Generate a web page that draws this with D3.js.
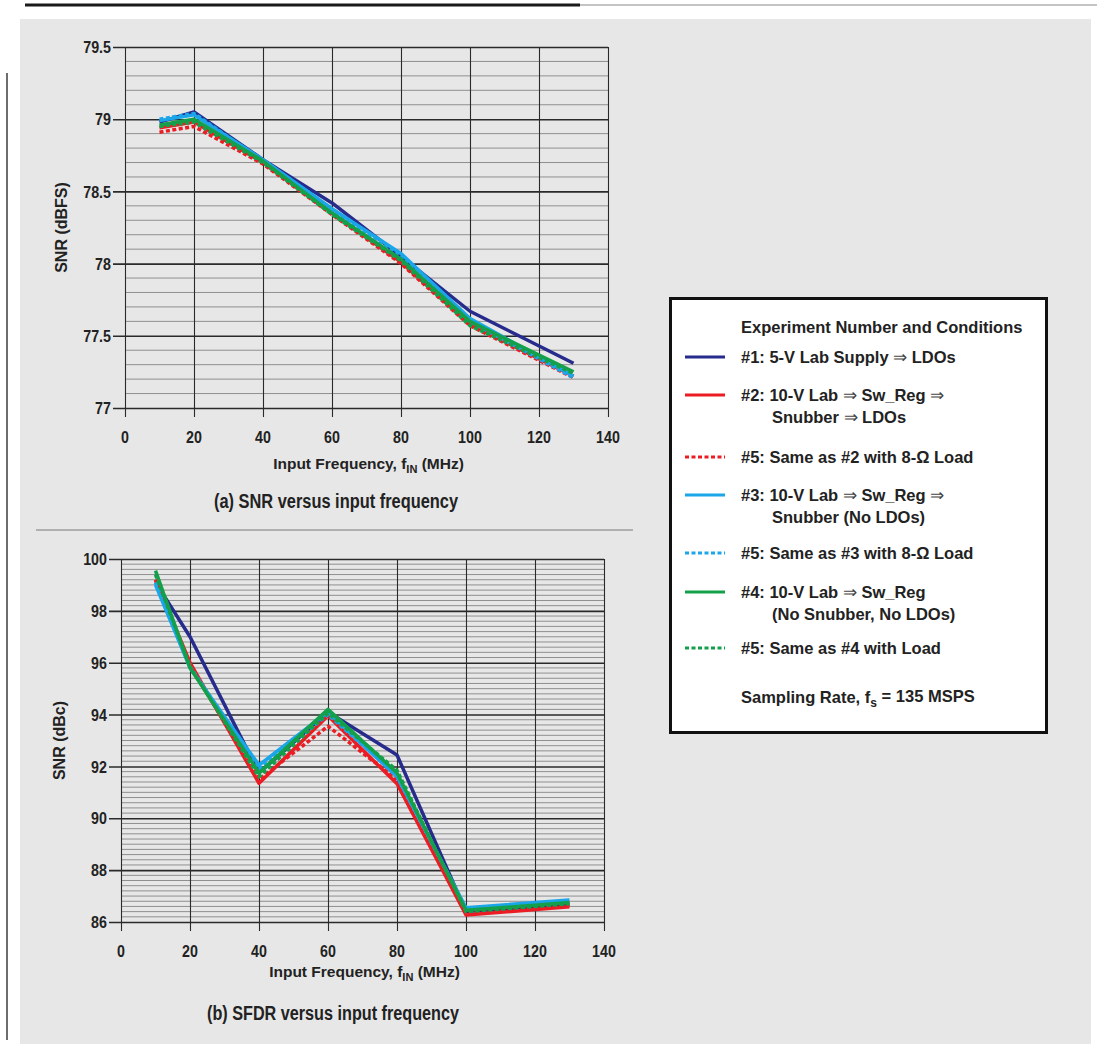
<!DOCTYPE html>
<html>
<head>
<meta charset="utf-8">
<script src="https://cdn.jsdelivr.net/npm/d3@7"></script>
<style>
  html, body { margin: 0; padding: 0; background: #ffffff; }
  svg { display: block; }
</style>
</head>
<body>
<svg id="chart" width="1097" height="1054"></svg>
<script>
// ---------------- DATA ----------------
const freq = [10, 20, 40, 60, 80, 100, 130];
const xTicks = [0, 20, 40, 60, 80, 100, 120, 140];
const snrTicks = [77, 77.5, 78, 78.5, 79, 79.5];
const sfdrTicks = [86, 88, 90, 92, 94, 96, 98, 100];

const seriesLabels = [
  ["#1: 5-V Lab Supply \u21D2 LDOs"],
  ["#2: 10-V Lab \u21D2 Sw_Reg \u21D2", "Snubber \u21D2 LDOs"],
  ["#5: Same as #2 with 8-\u03A9 Load"],
  ["#3: 10-V Lab \u21D2 Sw_Reg \u21D2", "Snubber (No LDOs)"],
  ["#5: Same as #3 with 8-\u03A9 Load"],
  ["#4: 10-V Lab \u21D2 Sw_Reg", "(No Snubber, No LDOs)"],
  ["#5: Same as #4 with Load"]
];

// SNR (dBFS), panel (a)
const snr1  = [78.98, 79.05, 78.72, 78.42, 78.05, 77.67, 77.31];
const snr2  = [78.94, 78.98, 78.70, 78.35, 78.01, 77.58, 77.22];
const snr2L = [78.91, 78.95, 78.69, 78.34, 78.00, 77.57, 77.21];
const snr3  = [78.99, 79.03, 78.72, 78.38, 78.07, 77.62, 77.22];
const snr3L = [79.00, 79.04, 78.71, 78.37, 78.06, 77.60, 77.21];
const snr4  = [78.96, 79.00, 78.71, 78.35, 78.03, 77.60, 77.25];
const snr4L = [78.95, 78.98, 78.70, 78.34, 78.02, 77.57, 77.24];

// SFDR (dBc), panel (b)
const sfdr1  = [99.1, 97.0, 91.75, 94.1, 92.44, 86.40, 86.70];
const sfdr2  = [99.2, 96.0, 91.35, 93.95, 91.33, 86.27, 86.59];
const sfdr2L = [99.2, 95.9, 91.50, 93.55, 91.50, 86.35, 86.65];
const sfdr3  = [99.0, 95.8, 92.05, 94.10, 91.60, 86.55, 86.85];
const sfdr3L = [99.1, 95.85, 91.90, 94.00, 91.65, 86.50, 86.80];
const sfdr4  = [99.55, 95.8, 91.75, 94.20, 91.75, 86.45, 86.75];
const sfdr4L = [99.4, 95.85, 91.60, 94.05, 91.85, 86.40, 86.70];

// ---------------- STYLE ----------------
const styles = [
  { color: "#262b8c", dash: null },
  { color: "#ec1c24", dash: null },
  { color: "#ec1c24", dash: "4,2.5" },
  { color: "#1ba6ea", dash: null },
  { color: "#1ba6ea", dash: "4,2.5" },
  { color: "#14a04a", dash: null },
  { color: "#14a04a", dash: "4,2.5" }
];

const font = "'Liberation Sans', Arial, Helvetica, sans-serif";
const ink = "#222";
const narrow = 0.84;

const svg = d3.select("#chart");

// page decorations
svg.append("line").attr("x1", 25).attr("x2", 580).attr("y1", 5).attr("y2", 5)
  .attr("stroke", "#1a1a1a").attr("stroke-width", 3);
svg.append("line").attr("x1", 580).attr("x2", 1097).attr("y1", 5).attr("y2", 5)
  .attr("stroke", "#8a8a8a").attr("stroke-width", 1.2);
svg.append("rect").attr("x", 20).attr("y", 19).attr("width", 1071).attr("height", 1025)
  .attr("fill", "#e7e7e7");
svg.append("line").attr("x1", 7).attr("x2", 7).attr("y1", 73).attr("y2", 1040)
  .attr("stroke", "#6d6d6d").attr("stroke-width", 2);
svg.append("line").attr("x1", 36).attr("x2", 633).attr("y1", 530).attr("y2", 530)
  .attr("stroke", "#7a7a7a").attr("stroke-width", 1.2);

function drawPanel(cfg) {
  const { left, right, top, bottom, yDomain, yTicks, minorStep, series, yTitle, caption, captionX, captionW, yTitleX, captionY, xTitleY, fmt } = cfg;
  const x = d3.scaleLinear().domain([0, 140]).range([left, right]);
  const y = d3.scaleLinear().domain(yDomain).range([bottom, top]);
  const g = svg.append("g");

  // minor horizontal gridlines
  const minors = d3.range(yDomain[0], yDomain[1] + 1e-9, minorStep)
    .filter(v => !yTicks.some(t => Math.abs(t - v) < 1e-6));
  g.append("g").selectAll("line").data(minors).join("line")
    .attr("x1", x(0)).attr("x2", x(140))
    .attr("y1", d => y(d)).attr("y2", d => y(d))
    .attr("stroke", "#8f8f8f").attr("stroke-width", 1);

  // vertical gridlines (x ticks)
  g.append("g").attr("transform", `translate(0,${bottom + 9})`)
    .call(d3.axisBottom(x).tickValues(xTicks).tickSize(bottom - top + 9).tickFormat(""))
    .call(a => a.select(".domain").remove())
    .call(a => a.selectAll(".tick line").attr("y1", 0).attr("y2", -(bottom - top + 9))
      .attr("stroke", "#2a2a2a").attr("stroke-width", 1.1));

  // major horizontal gridlines + y ticks extending left
  g.append("g").attr("transform", `translate(${right},0)`)
    .call(d3.axisLeft(y).tickValues(yTicks).tickSize(right - left + 12).tickFormat(""))
    .call(a => a.select(".domain").remove())
    .call(a => a.selectAll(".tick line").attr("stroke", "#2a2a2a").attr("stroke-width", 1.6));

  // tick labels (condensed bold)
  g.append("g").selectAll("text").data(yTicks).join("text")
    .attr("transform", d => `translate(${left - 14},${y(d)}) scale(${narrow},1)`)
    .attr("dy", "0.36em")
    .attr("text-anchor", "end")
    .attr("font-family", font).attr("font-weight", "bold").attr("font-size", 17)
    .attr("fill", ink).text(fmt);
  g.append("g").selectAll("text").data(xTicks).join("text")
    .attr("transform", d => `translate(${x(d)},${bottom + 35}) scale(${narrow},1)`)
    .attr("text-anchor", "middle")
    .attr("font-family", font).attr("font-weight", "bold").attr("font-size", 17)
    .attr("fill", ink).text(d => d);

  // series lines
  const line = d3.line().x((d, i) => x(freq[i])).y(d => y(d));
  series.forEach((s, i) => {
    g.append("path").datum(s)
      .attr("d", line)
      .attr("fill", "none")
      .attr("stroke", styles[i].color)
      .attr("stroke-width", 3.5)
      .attr("stroke-linejoin", "round")
      .attr("stroke-dasharray", styles[i].dash);
  });

  // y title
  svg.append("text")
    .attr("transform", `translate(${yTitleX},${(top + bottom) / 2}) rotate(-90)`)
    .attr("text-anchor", "middle").attr("dy", "0.35em")
    .attr("font-family", font).attr("font-weight", "bold").attr("font-size", 16)
    .attr("fill", ink).text(yTitle);

  // x title
  const xt = svg.append("text")
    .attr("x", (left + right) / 2 + 2).attr("y", xTitleY)
    .attr("text-anchor", "middle")
    .attr("font-family", font).attr("font-weight", "bold").attr("font-size", 15.5)
    .attr("fill", ink);
  xt.append("tspan").text("Input Frequency, f");
  xt.append("tspan").attr("dy", 4).attr("font-size", 11).text("IN");
  xt.append("tspan").attr("dy", -4).text(" (MHz)");

  // caption (condensed bold)
  svg.append("text")
    .attr("x", captionX).attr("y", captionY)
    .attr("text-anchor", "middle")
    .attr("textLength", captionW).attr("lengthAdjust", "spacingAndGlyphs")
    .attr("font-family", font).attr("font-weight", "bold").attr("font-size", 20)
    .attr("fill", ink).text(caption);
}

drawPanel({
  left: 125, right: 608, top: 47, bottom: 408,
  yDomain: [77, 79.5], yTicks: snrTicks, minorStep: 0.1,
  series: [snr1, snr2, snr2L, snr3, snr3L, snr4, snr4L],
  yTitle: "SNR (dBFS)", yTitleX: 61, xTitleY: 469, captionY: 508,
  captionX: 336, captionW: 244,
  caption: "(a) SNR versus input frequency", fmt: d => d3.format("")(d)
});

drawPanel({
  left: 121, right: 604, top: 559, bottom: 922,
  yDomain: [86, 100], yTicks: sfdrTicks, minorStep: 0.2,
  series: [sfdr1, sfdr2, sfdr2L, sfdr3, sfdr3L, sfdr4, sfdr4L],
  yTitle: "SNR (dBc)", yTitleX: 59, xTitleY: 977, captionY: 1020,
  captionX: 333, captionW: 252,
  caption: "(b) SFDR versus input frequency", fmt: d => d
});

// ---------------- LEGEND ----------------
const lg = svg.append("g");
lg.append("rect").attr("x", 670.5).attr("y", 298.5).attr("width", 376).attr("height", 434)
  .attr("fill", "#ffffff").attr("stroke", "#111").attr("stroke-width", 3);

function legText(xp, yp, txt) {
  const t = lg.append("text").attr("x", xp).attr("y", yp).attr("dy", "0.36em")
    .attr("font-family", font).attr("font-weight", "bold")
    .attr("font-size", 16.5).attr("fill", ink);
  // render the implication arrow lighter, as in the source
  txt.split(/(\u21D2)/).forEach(part => {
    if (part === "\u21D2") {
      t.append("tspan").attr("font-weight", "normal")
        .attr("font-size", 17).attr("fill", "#444").text(part);
    } else if (part.length) {
      t.append("tspan").text(part);
    }
  });
  return t;
}
legText(741, 327, "Experiment Number and Conditions");

const legRows = [357, 395, 457, 495, 553, 592, 648];
seriesLabels.forEach((lab, i) => {
  const yy = legRows[i];
  lg.append("line").attr("x1", 685).attr("x2", 725).attr("y1", yy).attr("y2", yy)
    .attr("stroke", styles[i].color).attr("stroke-width", 3)
    .attr("stroke-dasharray", styles[i].dash);
  legText(741, yy, lab[0]);
  if (lab[1]) legText(772, yy + 22, lab[1]);
});
const sr = legText(741, 697, "Sampling Rate, f");
sr.append("tspan").attr("dy", "0.3em").attr("font-size", 12).text("s");
sr.append("tspan").attr("dy", "-0.3em").text(" = 135 MSPS");
</script>
</body>
</html>
